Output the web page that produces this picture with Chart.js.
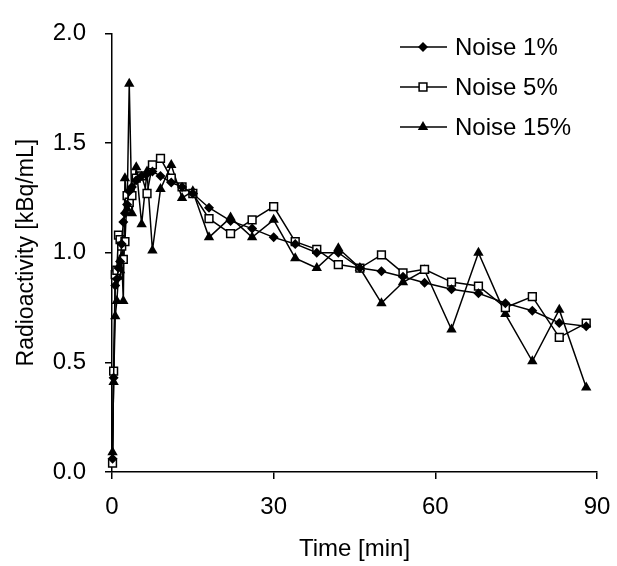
<!DOCTYPE html>
<html>
<head>
<meta charset="utf-8">
<script src="https://cdn.jsdelivr.net/npm/chart.js@4.4.0/dist/chart.umd.min.js"></script>
<style>
    html, body { margin: 0; padding: 0; background: #fff; }
    #chartBox { width: 617px; height: 566px; }
</style>
</head>
<body>
<div id="chartBox"><canvas id="activityChart" width="617" height="566"></canvas></div>
<script>
const timeMin = [0.1, 0.3, 0.6, 0.9, 1.2, 1.5, 1.8, 2.1, 2.4, 2.8, 3.2, 3.7, 4.5, 5.5, 6.5, 7.5,
    9, 11, 13, 15, 18, 22, 26, 30, 34, 38, 42, 46, 50, 54, 58, 63, 68, 73, 78, 83, 88];

const noise1 = [0.06, 0.43, 0.85, 0.88, 0.93, 0.96, 1.04, 1.14, 1.18, 1.22, 1.28, 1.30, 1.33, 1.35, 1.36, 1.37,
    1.35, 1.32, 1.30, 1.27, 1.205, 1.145, 1.11, 1.07, 1.04, 1.00, 1.00, 0.93, 0.915, 0.89, 0.863, 0.833, 0.815, 0.77, 0.735, 0.68, 0.665];

const noise5 = [0.04, 0.46, 0.90, 0.92, 1.08, 1.06, 1.03, 0.97, 1.05, 1.26, 1.23, 1.26, 1.34, 1.35, 1.27, 1.40,
    1.43, 1.34, 1.30, 1.27, 1.155, 1.087, 1.15, 1.21, 1.05, 1.015, 0.946, 0.93, 0.99, 0.908, 0.924, 0.866, 0.848, 0.75, 0.80, 0.614, 0.679];

const noise15 = [0.09, 0.41, 0.71, 0.78, 0.89, 0.92, 0.98, 0.78, 1.34, 1.20, 1.77, 1.18, 1.39, 1.13, 1.37, 1.01,
    1.29, 1.40, 1.25, 1.28, 1.07, 1.16, 1.07, 1.15, 0.975, 0.93, 1.02, 0.93, 0.77, 0.865, 0.92, 0.65, 1.00, 0.72, 0.505, 0.74, 0.385];

const seriesNames = ["Noise 1%", "Noise 5%", "Noise 15%"];
const xTicks = [0, 30, 60, 90];
const yTicks = [0.0, 0.5, 1.0, 1.5, 2.0];

const FONT = "'Liberation Sans', Arial, sans-serif";

function toPoints(values) {
    return timeMin.map((t, i) => ({ x: t, y: values[i] }));
}

function drawMarker(ctx, style, x, y) {
    ctx.beginPath();
    if (style === "rectRot") {
        ctx.moveTo(x, y - 5);
        ctx.lineTo(x + 5, y);
        ctx.lineTo(x, y + 5);
        ctx.lineTo(x - 5, y);
        ctx.closePath();
        ctx.fillStyle = "#000";
        ctx.fill();
    } else if (style === "rect") {
        ctx.rect(x - 3.9, y - 3.9, 7.8, 7.8);
        ctx.fillStyle = "#fff";
        ctx.fill();
        ctx.lineWidth = 1.5;
        ctx.strokeStyle = "#000";
        ctx.stroke();
    } else {
        ctx.moveTo(x, y - 6);
        ctx.lineTo(x + 5.2, y + 3);
        ctx.lineTo(x - 5.2, y + 3);
        ctx.closePath();
        ctx.fillStyle = "#000";
        ctx.fill();
    }
}

// legend drawn inside the plot, top right, like the original figure
const insideLegend = {
    id: "insideLegend",
    afterDraw(chart) {
        const ctx = chart.ctx;
        const rows = [47, 87, 127];
        ctx.save();
        chart.data.datasets.forEach((ds, i) => {
            const y = rows[i];
            ctx.beginPath();
            ctx.moveTo(400, y);
            ctx.lineTo(447, y);
            ctx.lineWidth = 1.5;
            ctx.strokeStyle = "#000";
            ctx.stroke();
            drawMarker(ctx, ds.pointStyle, 423, y);
            ctx.fillStyle = "#000";
            ctx.font = "24px " + FONT;
            ctx.textAlign = "left";
            ctx.textBaseline = "middle";
            ctx.fillText(ds.label, 455, y + 1);
        });
        ctx.restore();
    }
};

function renderChart() {
    const common = {
        borderColor: "#000",
        borderWidth: 1.5,
        pointBorderColor: "#000",
        pointBorderWidth: 1.5,
        showLine: true,
        tension: 0,
        clip: 10
    };

    new Chart(document.getElementById("activityChart"), {
        type: "scatter",
        data: {
            datasets: [
                Object.assign({}, common, {
                    label: seriesNames[0],
                    data: toPoints(noise1),
                    pointStyle: "rectRot",
                    pointRadius: 5,
                    pointBorderWidth: 0,
                    pointBackgroundColor: "#000"
                }),
                Object.assign({}, common, {
                    label: seriesNames[1],
                    data: toPoints(noise5),
                    pointStyle: "rect",
                    pointRadius: 5.5,
                    pointBackgroundColor: "#fff"
                }),
                Object.assign({}, common, {
                    label: seriesNames[2],
                    data: toPoints(noise15),
                    pointStyle: "triangle",
                    pointRadius: 6,
                    pointBorderWidth: 0,
                    pointBackgroundColor: "#000"
                })
            ]
        },
        options: {
            responsive: false,
            animation: false,
            layout: { padding: { left: 0, right: 20, top: 31, bottom: 0 } },
            plugins: {
                legend: { display: false },
                tooltip: { enabled: false }
            },
            scales: {
                x: {
                    type: "linear",
                    min: 0,
                    max: 90,
                    afterBuildTicks(scale) {
                        scale.ticks = xTicks.map(v => ({ value: v }));
                    },
                    afterFit(scale) {
                        scale.height = 94;
                        scale.paddingLeft = 0;
                        scale.paddingRight = 0;
                    },
                    grid: { display: true, drawOnChartArea: false, drawTicks: true, tickLength: 7, color: "#000", lineWidth: 1.5 },
                    border: { display: true, color: "#000", width: 1.5 },
                    ticks: { color: "#000", padding: 14, font: { family: FONT, size: 24 } },
                    title: { display: true, text: "Time [min]", color: "#000", padding: { top: 0, bottom: 2 }, font: { family: FONT, size: 24 } }
                },
                y: {
                    type: "linear",
                    min: 0,
                    max: 2,
                    afterBuildTicks(scale) {
                        scale.ticks = yTicks.map(v => ({ value: v }));
                    },
                    afterFit(scale) { scale.width = 112; },
                    grid: { display: true, drawOnChartArea: false, drawTicks: true, tickLength: 7, color: "#000", lineWidth: 1.5 },
                    border: { display: true, color: "#000", width: 1.5 },
                    ticks: {
                        color: "#000",
                        padding: 19,
                        font: { family: FONT, size: 24 },
                        callback: v => Number(v).toFixed(1)
                    },
                    title: { display: true, text: "Radioactivity [kBq/mL]", color: "#000", padding: { top: 13, bottom: 0 }, font: { family: FONT, size: 23 } }
                }
            }
        },
        plugins: [insideLegend]
    });
}

renderChart();
</script>
</body>
</html>
